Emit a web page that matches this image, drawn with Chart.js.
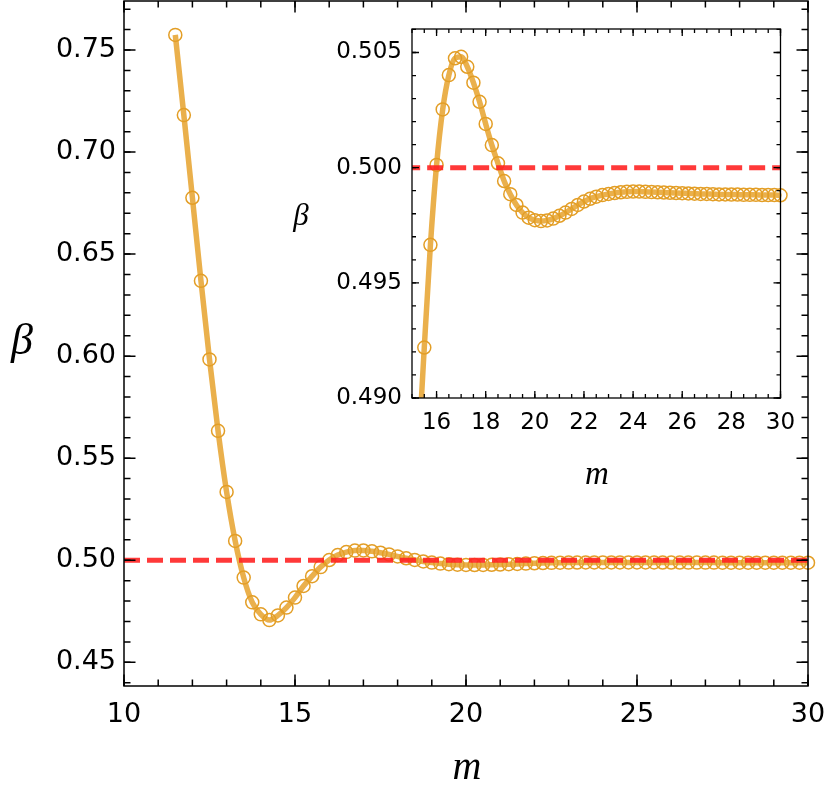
<!DOCTYPE html>
<html>
<head>
<meta charset="utf-8">
<script src="https://cdn.jsdelivr.net/npm/chart.js@4/dist/chart.umd.min.js"></script>
<style>
  body { margin: 0; background: #fff; }
  #wrap { position: relative; width: 830px; height: 806px; overflow: hidden; }
  #mainChart { position: absolute; left: 0; top: 0; }
  #insetChart { position: absolute; left: 290px; top: 0; }
  .lbl { position: absolute; font-family: "Liberation Serif", "DejaVu Serif", serif; font-style: italic;
         line-height: 1; transform: translate(-50%, -50%); color: #000; }
</style>
</head>
<body>
<div id="wrap">
  <canvas id="mainChart" width="830" height="806"></canvas>
  <canvas id="insetChart" width="520" height="490"></canvas>
  <div class="lbl" style="left:467px; top:766px; font-size:40px;">m</div>
  <div class="lbl" style="left:22px; top:340px; font-size:44px;">β</div>
  <div class="lbl" style="left:597px; top:473px; font-size:33px;">m</div>
  <div class="lbl" style="left:301px; top:214px; font-size:31px;">β</div>
</div>
<script>
// data
const mValues = [11.5, 11.75, 12, 12.25, 12.5, 12.75, 13, 13.25, 13.5, 13.75,
  14, 14.25, 14.5, 14.75, 15, 15.25, 15.5, 15.75, 16, 16.25,
  16.5, 16.75, 17, 17.25, 17.5, 17.75, 18, 18.25, 18.5, 18.75,
  19, 19.25, 19.5, 19.75, 20, 20.25, 20.5, 20.75, 21, 21.25,
  21.5, 21.75, 22, 22.25, 22.5, 22.75, 23, 23.25, 23.5, 23.75,
  24, 24.25, 24.5, 24.75, 25, 25.25, 25.5, 25.75, 26, 26.25,
  26.5, 26.75, 27, 27.25, 27.5, 27.75, 28, 28.25, 28.5, 28.75,
  29, 29.25, 29.5, 29.75, 30];
const betaValues = [0.7574, 0.7181, 0.6776, 0.6369, 0.5984, 0.5634, 0.5335, 0.5095, 0.4915, 0.4794,
  0.4735, 0.4707, 0.4730, 0.4768, 0.4817, 0.4874, 0.49219, 0.49665, 0.50012, 0.50253,
  0.50402, 0.50475, 0.50481, 0.50438, 0.50369, 0.50286, 0.50190, 0.50098, 0.50019, 0.49942,
  0.49885, 0.49838, 0.49805, 0.49783, 0.49772, 0.49768, 0.49771, 0.49779, 0.49791, 0.49805,
  0.49821, 0.49838, 0.49853, 0.49865, 0.49874, 0.49881, 0.49886, 0.49890, 0.49893, 0.49895,
  0.49896, 0.49896, 0.49895, 0.49894, 0.49893, 0.49892, 0.49891, 0.49890, 0.49889, 0.49888,
  0.49887, 0.49886, 0.49886, 0.49885, 0.49884, 0.49884, 0.49883, 0.49883, 0.49882, 0.49882,
  0.49882, 0.49881, 0.49881, 0.49881, 0.49880];
const refM = [10, 30];
const refBeta = [0.5, 0.5];

// tick labels
const mainXTicks = [10, 15, 20, 25, 30];
const mainYTicks = [0.45, 0.50, 0.55, 0.60, 0.65, 0.70, 0.75];
const insetXTicks = [16, 18, 20, 22, 24, 26, 28, 30];
const insetYTicks = [0.490, 0.495, 0.500, 0.505];

const curvePts = mValues.map((m, i) => ({ x: m, y: betaValues[i] }));
const refPts = refM.map((m, i) => ({ x: m, y: refBeta[i] }));

function steps(from, to, step) {
  const out = [];
  for (let v = from; v <= to + step / 10; v += step) out.push(+v.toFixed(4));
  return out;
}

// frame with inward ticks on all four sides (Mathematica style)
const framePlugin = {
  id: 'frame',
  afterDraw(chart, args, o) {
    const { ctx, chartArea: a, scales: { x, y } } = chart;
    ctx.save();
    ctx.strokeStyle = '#000';
    ctx.lineWidth = o.lineWidth;
    const xt = (vals, len) => vals.forEach(v => {
      const p = x.getPixelForValue(v);
      if (p < a.left - 0.5 || p > a.right + 0.5) return;
      ctx.beginPath();
      ctx.moveTo(p, a.bottom); ctx.lineTo(p, a.bottom - len);
      ctx.moveTo(p, a.top); ctx.lineTo(p, a.top + len);
      ctx.stroke();
    });
    const yt = (vals, len) => vals.forEach(v => {
      const p = y.getPixelForValue(v);
      if (p < a.top - 0.5 || p > a.bottom + 0.5) return;
      ctx.beginPath();
      ctx.moveTo(a.left, p); ctx.lineTo(a.left + len, p);
      ctx.moveTo(a.right, p); ctx.lineTo(a.right - len, p);
      ctx.stroke();
    });
    xt(o.xMinor, o.minorLen); yt(o.yMinor, o.minorLen);
    xt(o.xMajor, o.majorLen); yt(o.yMajor, o.majorLen);
    ctx.strokeRect(a.left, a.top, a.right - a.left, a.bottom - a.top);
    ctx.restore();
  }
};

function datasets(curveClip) {
  return [
    {
      data: refPts,
      borderColor: 'rgba(255, 35, 35, 0.9)',
      borderWidth: 5,
      borderDash: [16, 7],
      pointRadius: 0,
      order: 0,
      clip: 0
    },
    {
      data: curvePts,
      borderColor: '#EAB04C',
      borderWidth: 5.5,
      cubicInterpolationMode: 'monotone',
      pointRadius: 6.5,
      pointBorderWidth: 1.5,
      pointBorderColor: '#E39E26',
      pointBackgroundColor: 'rgba(0,0,0,0)',
      order: 1,
      clip: curveClip
    }
  ];
}

function axis(cfg) {
  return {
    type: 'linear',
    min: cfg.min,
    max: cfg.max,
    grid: { display: false, drawTicks: false },
    border: { display: false },
    ticks: {
      color: '#000',
      font: { family: 'DejaVu Sans', size: cfg.size },
      padding: cfg.padding,
      maxRotation: 0,
      autoSkip: false,
      callback: cfg.fmt
    },
    afterBuildTicks: s => { s.ticks = cfg.ticks.map(v => ({ value: v })); },
    afterFit: s => {
      if (cfg.width) s.width = cfg.width;
      if (cfg.height) s.height = cfg.height;
      s.paddingLeft = 0; s.paddingRight = 0; s.paddingTop = 0; s.paddingBottom = 0;
    }
  };
}

new Chart(document.getElementById('mainChart'), {
  type: 'line',
  data: { datasets: datasets(8) },
  options: {
    responsive: false,
    animation: false,
    layout: { autoPadding: false, padding: { left: 0, top: 1, right: 22, bottom: 0 } },
    plugins: {
      legend: { display: false },
      tooltip: { enabled: false },
      frame: {
        lineWidth: 1.5, majorLen: 11.5, minorLen: 6.5,
        xMajor: mainXTicks, xMinor: steps(10, 30, 1),
        yMajor: mainYTicks, yMinor: steps(0.44, 0.77, 0.01)
      }
    },
    scales: {
      x: axis({ min: 10, max: 30, ticks: mainXTicks, size: 27, padding: 13, height: 120, fmt: v => String(v) }),
      y: axis({ min: 0.4384, max: 0.774, ticks: mainYTicks, size: 27, padding: 8, width: 124, fmt: v => v.toFixed(2) })
    }
  },
  plugins: [framePlugin]
});

new Chart(document.getElementById('insetChart'), {
  type: 'line',
  data: { datasets: datasets({ left: 0, top: 8, right: 8, bottom: 0 }) },
  options: {
    responsive: false,
    animation: false,
    layout: { autoPadding: false, padding: { left: 0, top: 29, right: 29.5, bottom: 0 } },
    plugins: {
      legend: { display: false },
      tooltip: { enabled: false },
      frame: {
        lineWidth: 1.3, majorLen: 7, minorLen: 4,
        xMajor: insetXTicks, xMinor: steps(15, 30, 0.5),
        yMajor: insetYTicks, yMinor: steps(0.490, 0.506, 0.001)
      }
    },
    scales: {
      x: axis({ min: 15, max: 30, ticks: insetXTicks, size: 23, padding: 11, height: 92, fmt: v => String(v) }),
      y: axis({ min: 0.490, max: 0.50602, ticks: insetYTicks, size: 23, padding: 10, width: 122, fmt: v => v.toFixed(3) })
    }
  },
  plugins: [framePlugin]
});
</script>
</body>
</html>
